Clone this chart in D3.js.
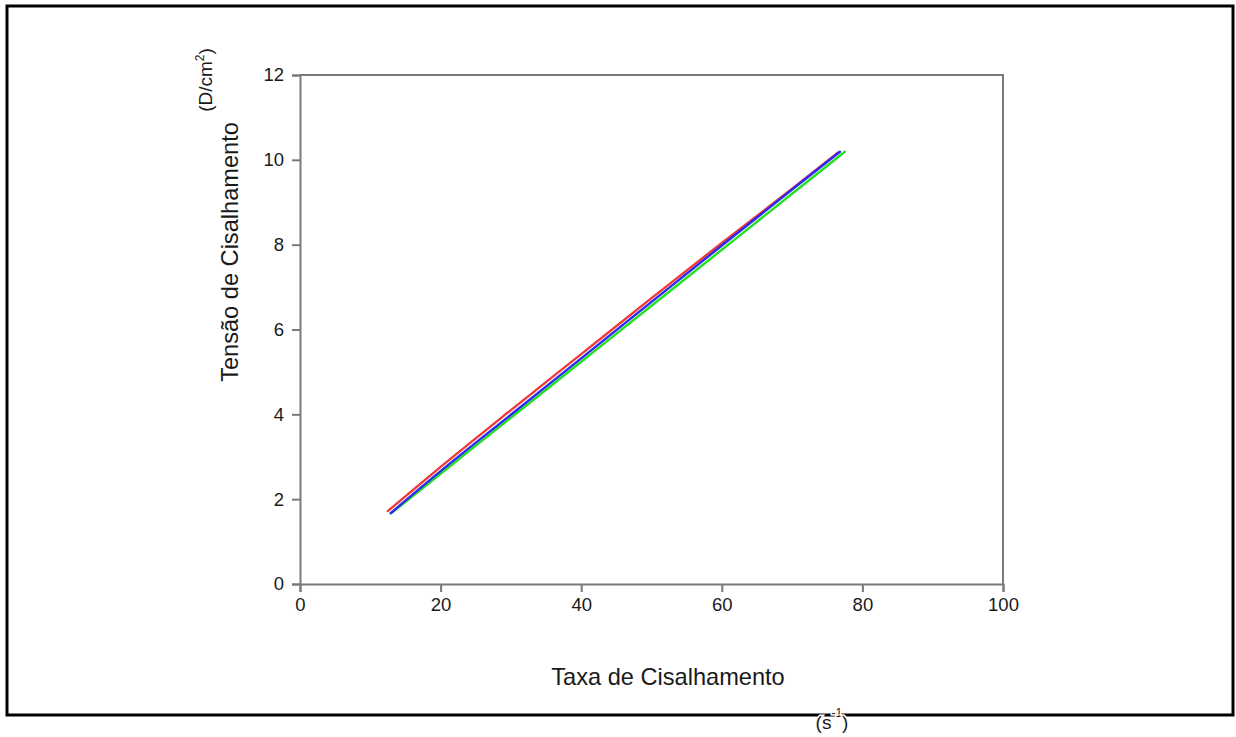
<!DOCTYPE html>
<html>
<head>
<meta charset="utf-8">
<script src="https://cdn.jsdelivr.net/npm/d3@7"></script>
<style>
  body { margin: 0; background: #fff; }
  svg text { font-family: "Liberation Sans", Arial, sans-serif; fill: #1a1a1a; }
</style>
</head>
<body>
<svg id="chart" width="1236" height="737"></svg>
<script>
// Shear rate (s^-1) and shear stress (D/cm2), one pair of arrays per curve.
var redRate = [12.5, 20, 30, 40, 50, 60, 70, 76.5];
var redStress = [1.72, 2.76, 4.1, 5.42, 6.74, 8.04, 9.32, 10.17];
var greenRate = [13.0, 20, 30, 40, 50, 60, 70, 77.5];
var greenStress = [1.67, 2.6, 3.92, 5.24, 6.56, 7.88, 9.2, 10.19];
var blueRate = [12.9, 20, 30, 40, 50, 60, 70, 76.8];
var blueStress = [1.67, 2.66, 3.99, 5.32, 6.65, 7.98, 9.3, 10.19];

var xTicks = [0, 20, 40, 60, 80, 100];
var yTicks = [0, 2, 4, 6, 8, 10, 12];

var series = [
  { name: "verde", rate: greenRate, stress: greenStress, color: "#22e022" },
  { name: "vermelho", rate: redRate, stress: redStress, color: "#f03a3a" },
  { name: "azul", rate: blueRate, stress: blueStress, color: "#2a2af0" }
];

var svg = d3.select("#chart");

// outer frame
svg.append("rect")
  .attr("x", 7).attr("y", 6)
  .attr("width", 1226).attr("height", 709)
  .attr("fill", "none").attr("stroke", "#000").attr("stroke-width", 3);

var x = d3.scaleLinear().domain([0, 100]).range([300, 1003]);
var y = d3.scaleLinear().domain([0, 12]).range([584, 75]);

// plot box (top and right sides)
svg.append("path")
  .attr("d", "M" + x(0) + "," + y(12) + "H" + x(100) + "V" + y(0))
  .attr("fill", "none").attr("stroke", "#7a7a7a").attr("stroke-width", 2);

var xAxis = svg.append("g")
  .attr("transform", "translate(0," + y(0) + ")")
  .call(d3.axisBottom(x).tickValues(xTicks).tickSize(8).tickPadding(6).tickFormat(d3.format("d")));

var yAxis = svg.append("g")
  .attr("transform", "translate(" + x(0) + ",0)")
  .call(d3.axisLeft(y).tickValues(yTicks).tickSize(8).tickPadding(8).tickFormat(d3.format("d")));

[xAxis, yAxis].forEach(function(g) {
  g.select(".domain").attr("stroke", "#7a7a7a").attr("stroke-width", 2);
  g.selectAll(".tick line").attr("stroke", "#7a7a7a").attr("stroke-width", 2);
  g.selectAll(".tick text").attr("font-size", 18.5).attr("fill", "#1a1a1a")
    .attr("font-family", "Liberation Sans, Arial, sans-serif");
});

// curves
var line = d3.line()
  .x(function(d) { return x(d[0]); })
  .y(function(d) { return y(d[1]); })
  .curve(d3.curveMonotoneX);

series.forEach(function(s) {
  var pts = s.rate.map(function(r, i) { return [r, s.stress[i]]; });
  svg.append("path")
    .datum(pts)
    .attr("d", line)
    .attr("fill", "none")
    .attr("stroke", s.color)
    .attr("stroke-width", 2.4)
    .attr("stroke-linecap", "round");
});

// axis titles
svg.append("text")
  .attr("x", 668).attr("y", 685)
  .attr("text-anchor", "middle")
  .attr("font-size", 23.6)
  .text("Taxa de Cisalhamento");

svg.append("text")
  .attr("transform", "translate(238,252) rotate(-90)")
  .attr("text-anchor", "middle")
  .attr("font-size", 23.6)
  .text("Tensão de Cisalhamento");

var unitY = svg.append("text")
  .attr("transform", "translate(212,80) rotate(-90)")
  .attr("text-anchor", "middle")
  .attr("font-size", 19);
unitY.append("tspan").text("(D/cm");
unitY.append("tspan").attr("font-size", 12).attr("dy", -8).text("2");
unitY.append("tspan").attr("dy", 8).text(")");

// unit under the frame line, white halo so the superscript stays readable
var unitX = svg.append("text")
  .attr("x", 832).attr("y", 729)
  .attr("text-anchor", "middle")
  .attr("font-size", 19)
  .attr("stroke", "#fff").attr("stroke-width", 3)
  .attr("paint-order", "stroke")
  .attr("font-family", "Carlito, 'Liberation Sans', sans-serif");
unitX.append("tspan").text("(s");
unitX.append("tspan").attr("font-size", 12).attr("dy", -12).text("-1");
unitX.append("tspan").attr("dy", 12).text(")");
</script>
</body>
</html>
